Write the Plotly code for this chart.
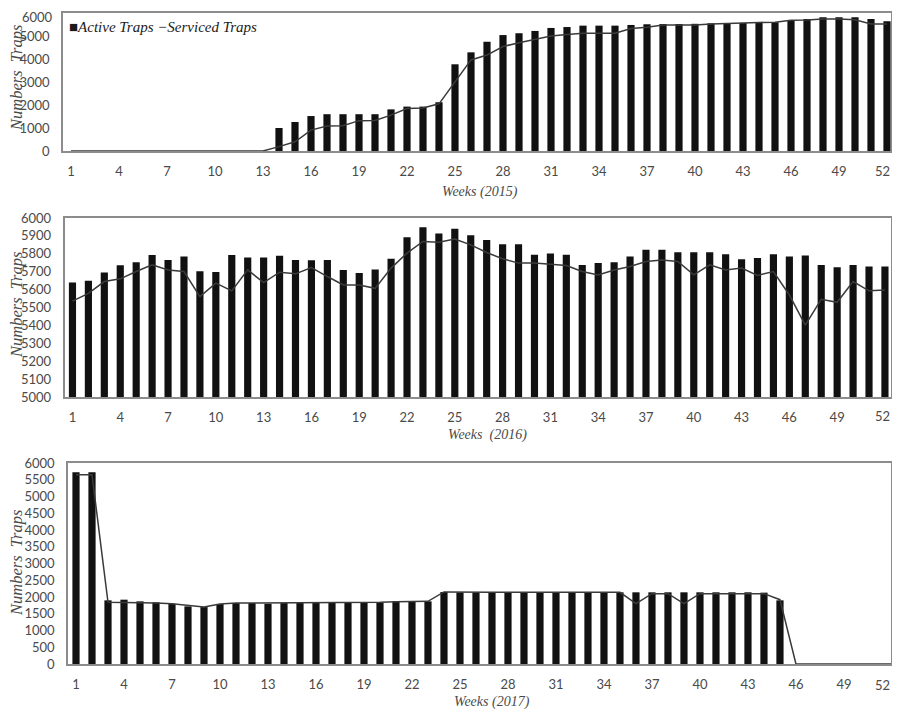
import plotly.graph_objects as go

weeks = list(range(1, 53))
tick_weeks = list(range(1, 50, 3))   # 1 ... 49 ; the last label "52" is placed at the edge below
last_week_label = "52"

active_2015 = [0]*13 + [1000, 1260, 1520, 1600, 1600, 1600, 1600, 1810, 1930, 1930, 2120,
               3770, 4290, 4750, 5040, 5120, 5220, 5350, 5390, 5450, 5450, 5450, 5480,
               5510, 5520, 5520, 5530, 5550, 5570, 5570, 5600, 5600, 5700, 5740, 5810,
               5820, 5820, 5740, 5640]
serviced_2015 = [0]*13 + [190, 400, 910, 1090, 1100, 1320, 1330, 1560, 1850, 1870, 2050,
                 3010, 3960, 4170, 4540, 4710, 4860, 5000, 5070, 5120, 5120, 5120, 5330,
                 5380, 5480, 5480, 5480, 5520, 5550, 5550, 5590, 5600, 5680, 5700, 5740,
                 5740, 5710, 5520, 5520]

active_2016 = [5639, 5649, 5695, 5736, 5753, 5793, 5766, 5785, 5703, 5699, 5793, 5779,
               5779, 5789, 5766, 5764, 5766, 5710, 5693, 5712, 5772, 5892, 5948, 5914,
               5940, 5903, 5877, 5854, 5854, 5794, 5802, 5794, 5738, 5748, 5753, 5785,
               5822, 5822, 5809, 5809, 5809, 5798, 5770, 5776, 5798, 5785, 5790, 5738,
               5725, 5738, 5729, 5729]
serviced_2016 = [5536, 5579, 5645, 5660, 5701, 5738, 5710, 5701, 5561, 5636, 5593, 5710,
                 5639, 5697, 5688, 5723, 5673, 5626, 5626, 5607, 5720, 5804, 5869, 5864,
                 5882, 5850, 5807, 5772, 5748, 5748, 5742, 5735, 5701, 5682, 5710, 5729,
                 5757, 5766, 5757, 5682, 5738, 5710, 5720, 5679, 5701, 5570, 5402, 5546,
                 5529, 5645, 5593, 5598]

active_2017 = [5721, 5721, 1900, 1920, 1870, 1840, 1800, 1720, 1700, 1790, 1820, 1820,
               1800, 1820, 1840, 1840, 1840, 1840, 1840, 1840, 1870, 1870, 1870, 2150,
               2140, 2140, 2140, 2140, 2140, 2140, 2140, 2140, 2140, 2140, 2140, 2140,
               2140, 2140, 2140, 2140, 2140, 2140, 2140, 2130, 1900] + [0]*7
serviced_2017 = [5650, 5650, 1840, 1840, 1840, 1820, 1800, 1740, 1700, 1790, 1820, 1820,
                 1820, 1820, 1840, 1840, 1840, 1840, 1840, 1840, 1860, 1870, 1870, 2150,
                 2140, 2140, 2140, 2140, 2140, 2140, 2140, 2140, 2140, 2140, 2140, 1800,
                 2100, 2100, 1800, 2100, 2100, 2100, 2100, 2100, 1920] + [0]*7

BAR = "#111111"
LINE = "#3a3a3a"
TXT = "#4a4a4a"
SERIF = "Liberation Serif"
SANS = "Lato"

fig = go.Figure()
panels = [
    (active_2015, serviced_2015, "", ""),
    (active_2016, serviced_2016, "2", "2"),
    (active_2017, serviced_2017, "3", "3"),
]
for i, (act, srv, xs, ys) in enumerate(panels):
    fig.add_trace(go.Bar(x=weeks, y=act, name="Active Traps", marker_color=BAR,
                         marker_line_width=0, xaxis="x" + xs, yaxis="y" + ys,
                         showlegend=False))
    fig.add_trace(go.Scatter(x=weeks, y=srv, name="Serviced Traps", mode="lines",
                             line=dict(color=LINE, width=1.5), xaxis="x" + xs, yaxis="y" + ys,
                             showlegend=False))

# page body has an 8px margin; figure coordinates = reference pixels - 8
OFF = 8
W = 884.0
H = 705.0

def px(x):
    return (x - OFF) / W

def py(y):
    return 1 - (y - OFF) / H

def xax(dom, anchor, rng):
    return dict(domain=dom, anchor=anchor, range=rng, tickmode="array",
                tickvals=tick_weeks, ticktext=[str(t) for t in tick_weeks],
                showgrid=False, zeroline=False, showline=True, mirror=True,
                linecolor="#8c8c8c", linewidth=1.5, ticks="", ticklabelstandoff=8,
                ticklabeloverflow="allow",
                tickfont=dict(family=SANS, size=13, color=TXT), automargin=False,
                fixedrange=True)

def yax(dom, anchor, rng, dt, top_label=True):
    d = dict(domain=dom, anchor=anchor, range=rng,
             showgrid=False, zeroline=False, showline=True, mirror=True,
             linecolor="#8c8c8c", linewidth=1.5, ticks="", ticklabelstandoff=9,
             ticklabeloverflow="allow",
             tickfont=dict(family=SANS, size=13, color=TXT), automargin=False,
             fixedrange=True)
    vals = list(range(rng[0], rng[1] + 1, dt))
    if not top_label:
        vals = vals[:-1]
    d.update(tickmode="array", tickvals=vals, ticktext=[str(v) for v in vals])
    return d

fig.update_layout(
    width=int(W), height=int(H),
    margin=dict(l=0, r=0, t=0, b=0),
    paper_bgcolor="white", plot_bgcolor="white",
    bargap=0.55,
    showlegend=False,
    xaxis=xax([px(63), px(891)], "y", [0.5, 52.25]),
    yaxis=yax([py(151), py(13)], "x", [0, 6000], 1000, top_label=False),
    xaxis2=xax([px(64.5), px(891)], "y2", [0.5, 52.38]),
    yaxis2=yax([py(397), py(218)], "x2", [5000, 6000], 100),
    xaxis3=xax([px(68), px(891)], "y3", [0.5, 51.94]),
    yaxis3=yax([py(664), py(463)], "x3", [0, 6000], 500),
)

# edge tick labels that would otherwise be clipped by the page edge
for y in [171, 416, 685]:
    fig.add_annotation(text=last_week_label, x=px(891), y=py(y), xref="paper", yref="paper",
                       showarrow=False, xanchor="right", yanchor="middle", borderpad=0,
                       font=dict(family=SANS, size=13, color=TXT))
fig.add_annotation(text="6000", x=px(53.5), y=1.0, xref="paper", yref="paper",
                   showarrow=False, xanchor="right", yanchor="top", borderpad=0,
                   font=dict(family=SANS, size=13, color=TXT))

# legend text as drawn in the reference
fig.add_annotation(text="■<i>Active Traps −Serviced Traps</i>", x=px(67), y=py(27),
                   xref="paper", yref="paper", showarrow=False, xanchor="left",
                   yanchor="middle",
                   font=dict(family=SERIF, size=15, color="#1a1a1a"))

annos = [
    ("Weeks (2015)", 480, 192),
    ("Weeks  (2016)", 488, 435),
    ("Weeks (2017)", 492, 702),
]
for t, x, y in annos:
    fig.add_annotation(text=t, x=px(x), y=py(y), xref="paper", yref="paper",
                       showarrow=False, xanchor="center", yanchor="middle",
                       font=dict(family=SERIF, size=14, color=TXT, style="italic"))
for y in [78, 305, 563]:
    fig.add_annotation(text="Numbers  Traps", x=px(16), y=py(y), xref="paper", yref="paper",
                       showarrow=False, textangle=-90, xanchor="center", yanchor="middle",
                       font=dict(family=SERIF, size=16.5, color=TXT, style="italic"))

fig.write_html("out.html")
